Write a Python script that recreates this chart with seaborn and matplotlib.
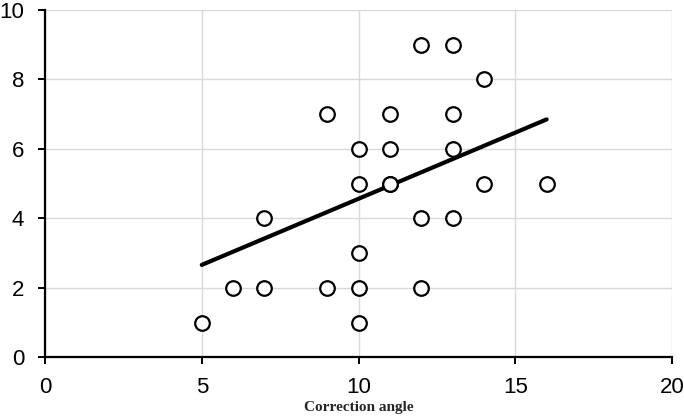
import matplotlib
matplotlib.use("Agg")
import matplotlib.pyplot as plt
import seaborn as sns
import pandas as pd

# Dados
correction_angle = [5, 6, 7, 7, 9, 9, 10, 10, 10, 10, 10, 11, 11, 11, 11,
                    12, 12, 12, 13, 13, 13, 13, 14, 14, 16]
score = [1, 2, 2, 4, 2, 7, 1, 2, 3, 5, 6, 5, 5, 6, 7,
         2, 4, 9, 4, 6, 7, 9, 5, 8, 5]

# Linha de tendência (extremos)
trend_x = [5, 16]
trend_y = [2.66, 6.85]

df = pd.DataFrame({"angle": correction_angle, "score": score})
trend_df = pd.DataFrame({"angle": trend_x, "score": trend_y})

sns.set_theme(style="whitegrid")
plt.rcParams["font.family"] = ["Liberation Sans", "DejaVu Sans"]

fig = plt.figure(figsize=(6.84, 4.17), dpi=100)
ax = fig.add_axes([0.0658, 0.1432, 0.9167, 0.8328])

sns.lineplot(data=trend_df, x="angle", y="score", color="black", linewidth=3,
             ax=ax, zorder=2)
sns.scatterplot(data=df, x="angle", y="score", s=110, facecolor="white",
                edgecolor="black", linewidth=1.6, ax=ax, zorder=3)

ax.set_xlim(0, 20)
ax.set_ylim(0, 10)
ax.set_xticks([0, 5, 10, 15, 20])
ax.set_yticks([0, 2, 4, 6, 8, 10])
ax.grid(True, color="#d9d9d9", linewidth=1)
ax.set_axisbelow(True)

for side in ["top", "right"]:
    ax.spines[side].set_visible(False)
for side in ["left", "bottom"]:
    ax.spines[side].set_color("black")
    ax.spines[side].set_linewidth(1.6)

ax.tick_params(axis="both", which="major", direction="out", length=5, width=1.4,
               color="black", labelsize=16, labelcolor="black",
               bottom=True, left=True)
ax.tick_params(axis="x", pad=9)
ax.tick_params(axis="y", pad=10)

ax.set_xlabel("Correction angle", fontsize=11, fontweight="bold",
              family=["Liberation Serif", "DejaVu Serif"], va="center")
ax.xaxis.set_label_coords(0.5, -0.145)
ax.set_ylabel("")

plt.savefig("out.png", dpi=100)
plt.close()
